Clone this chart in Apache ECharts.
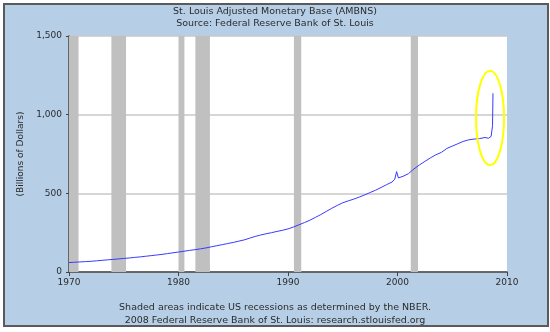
<!DOCTYPE html>
<html>
<head>
<meta charset="utf-8">
<script src="https://cdn.jsdelivr.net/npm/echarts@6/dist/echarts.min.js"></script>
<style>
  html, body { margin: 0; padding: 0; background: #ffffff; }
  #chart { width: 550px; height: 332px; }
</style>
</head>
<body>
<div id="chart"></div>
<script>
// Adjusted monetary base, billions of dollars, by decimal year
const years = [
  1970.0, 1970.5, 1971.0, 1971.5, 1972.0, 1972.5, 1973.0, 1973.5, 1974.0, 1974.5,
  1975.0, 1975.5, 1976.0, 1976.5, 1977.0, 1977.5, 1978.0, 1978.5, 1979.0, 1979.5,
  1980.0, 1980.5, 1981.0, 1981.5, 1982.0, 1982.5, 1983.0, 1983.5, 1984.0, 1984.5,
  1985.0, 1985.5, 1986.0, 1986.5, 1987.0, 1987.5, 1988.0, 1988.5, 1989.0, 1989.5,
  1990.0, 1990.5, 1991.0, 1991.5, 1992.0, 1992.5, 1993.0, 1993.5, 1994.0, 1994.5,
  1995.0, 1995.5, 1996.0, 1996.5, 1997.0, 1997.5, 1998.0, 1998.5, 1999.0, 1999.5,
  1999.75, 1999.92, 2000.08, 2000.5, 2001.0, 2001.5, 2002.0, 2002.5, 2003.0, 2003.5,
  2004.0, 2004.5, 2005.0, 2005.5, 2006.0, 2006.5, 2007.0, 2007.5, 2008.0, 2008.3,
  2008.55, 2008.62, 2008.68, 2008.72
];
const baseValues = [
  60, 62, 64, 66, 68, 71, 74, 77, 80, 83,
  86, 89, 93, 96, 100, 104, 108, 112, 117, 122,
  127, 132, 137, 142, 147, 153, 160, 167, 174, 181,
  188, 196, 204, 215, 226, 235, 243, 250, 258, 265,
  274, 286, 300, 314, 329, 347, 365, 385, 405, 423,
  440, 452, 463, 476, 490, 505, 520, 537, 555, 572,
  590, 638, 598, 608, 625, 655, 680, 703, 725, 745,
  760, 785, 800, 815, 830, 840, 845, 848, 855, 850,
  862, 870, 930, 1136
];

// NBER recession periods (start, end)
const recessionStarts = [1969.92, 1973.87, 1980.0, 1981.54, 1990.54, 2001.21];
const recessionEnds   = [1970.87, 1975.21, 1980.54, 1982.87, 1991.21, 2001.87];

const yTicks = [0, 500, 1000, 1500];
const xTicks = [1970, 1980, 1990, 2000, 2010];

const titleLines = ['St. Louis Adjusted Monetary Base (AMBNS)', 'Source: Federal Reserve Bank of St. Louis'];
const footLines = ['Shaded areas indicate US recessions as determined by the NBER.',
                   '2008 Federal Reserve Bank of St. Louis: research.stlouisfed.org'];

const FONT = 'DejaVu Sans';
const TEXT = '#2b2b2b';

const chart = echarts.init(document.getElementById('chart'), null, { renderer: 'canvas' });

const series = [{
  type: 'line',
  data: years.map((y, i) => [y, baseValues[i]]),
  showSymbol: false,
  lineStyle: { color: '#3a3aff', width: 1 },
  z: 5,
  markArea: {
    silent: true,
    itemStyle: { color: '#c0c0c0' },
    data: recessionStarts.map((s, i) => [{ xAxis: Math.max(s, 1970) }, { xAxis: recessionEnds[i] }])
  }
}];

chart.setOption({
  animation: false,
  backgroundColor: '#ffffff',
  graphic: [
    {
      id: 'frame', type: 'rect', z: -10,
      shape: { x: 4, y: 4, width: 544, height: 322 },
      style: { fill: '#b6cfe7', stroke: '#5a5a5a', lineWidth: 2 }
    },
    {
      id: 'title', type: 'text', left: 'center', top: 6,
      style: { text: titleLines.join('\n'), font: '9.5px "' + FONT + '"', fill: TEXT, textAlign: 'center', lineHeight: 12 }
    },
    {
      id: 'foot', type: 'text', left: 'center', top: 301,
      style: { text: footLines.join('\n'), font: '9.5px "' + FONT + '"', fill: TEXT, textAlign: 'center', lineHeight: 13 }
    }
  ],
  grid: { left: 69, right: 43, top: 36, bottom: 60, show: true, backgroundColor: '#ffffff', borderWidth: 0 },
  xAxis: {
    type: 'value', min: 1970, max: 2010, interval: 10,
    axisLine: { show: true, lineStyle: { color: '#444', width: 1.5 } },
    axisTick: { show: true, length: 4, lineStyle: { color: '#444' } },
    axisLabel: { color: TEXT, fontFamily: FONT, fontSize: 9, margin: 6,
      formatter: v => xTicks.includes(v) ? String(v) : '' },
    splitLine: { show: false }
  },
  yAxis: {
    type: 'value', min: 0, max: 1500, interval: 500,
    name: '(Billions of Dollars)', nameLocation: 'middle', nameGap: 42,
    nameTextStyle: { color: TEXT, fontFamily: FONT, fontSize: 9 },
    axisLine: { show: true, lineStyle: { color: '#444', width: 1.5 } },
    axisTick: { show: true, length: 3, lineStyle: { color: '#444' } },
    axisLabel: { color: TEXT, fontFamily: FONT, fontSize: 9, margin: 7,
      formatter: v => yTicks.includes(v) ? v.toLocaleString('en-US') : '' },
    splitLine: { show: true, lineStyle: { color: '#c8c8c8', width: 1.5 } }
  },
  series: series
});

// Highlight ring around the late-2008 jump, placed in data coordinates
const c = chart.convertToPixel({ gridIndex: 0 }, [2008.45, 979]);
const e = chart.convertToPixel({ gridIndex: 0 }, [2008.45 + 1.28, 979 - 300]);
chart.setOption({
  graphic: [
    {
      id: 'ring', type: 'ellipse', z: 100,
      shape: { cx: c[0], cy: c[1], rx: e[0] - c[0], ry: e[1] - c[1] },
      style: { fill: 'none', stroke: '#ffff00', lineWidth: 2 }
    }
  ]
});
</script>
</body>
</html>
